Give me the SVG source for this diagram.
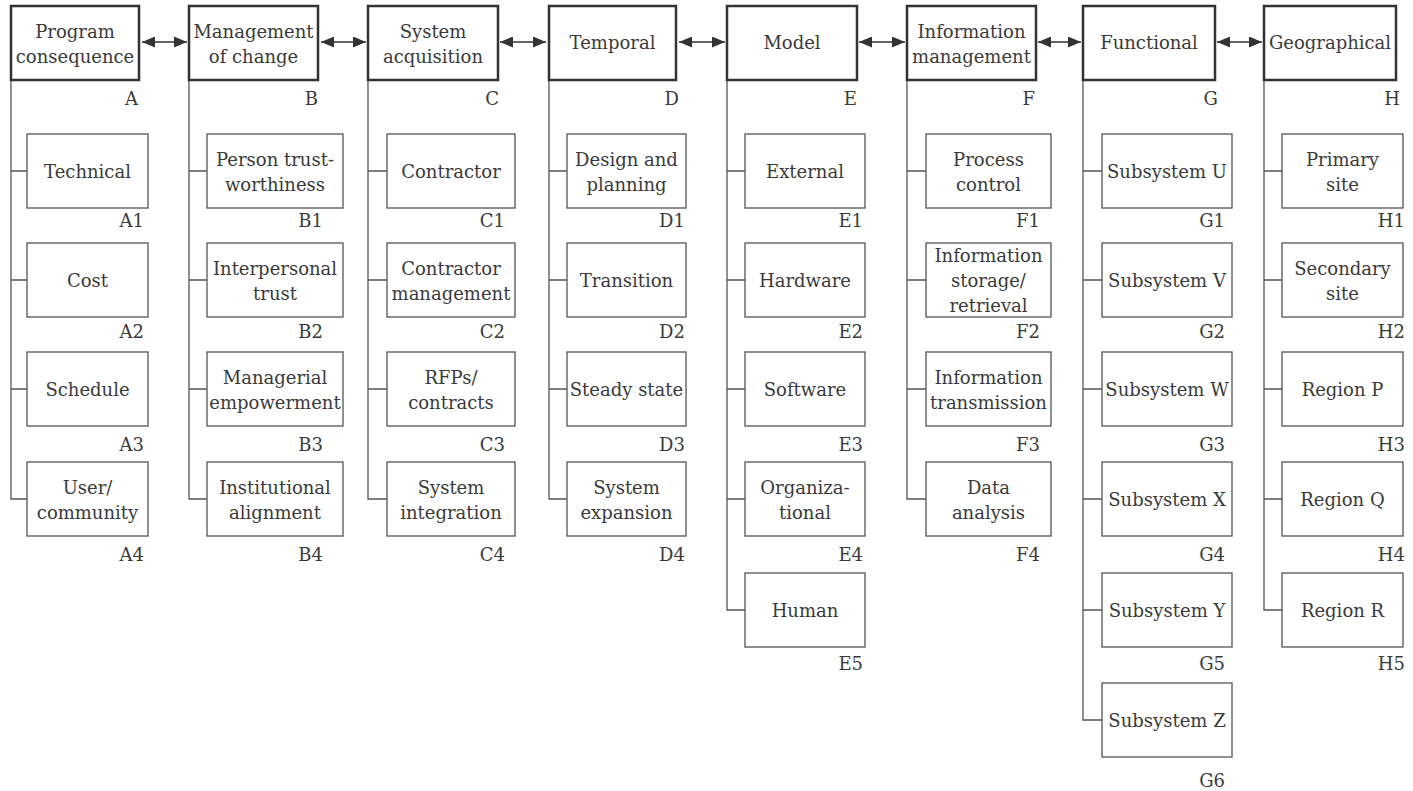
<svg xmlns="http://www.w3.org/2000/svg" width="1413" height="791" viewBox="0 0 1413 791">
<defs>
<marker id="ah" markerUnits="userSpaceOnUse" markerWidth="13" markerHeight="11" refX="13" refY="5.5" orient="auto-start-reverse"><path d="M0,0 L13,5.5 L0,11 z" fill="#333"/></marker>
<style>
.top{fill:#fff;stroke:#333;stroke-width:2.5}
.box{fill:#fff;stroke:#555;stroke-width:1.3}
.t{font-family:"DejaVu Serif","Liberation Serif",serif;font-size:18px;fill:#3a3a3a;text-anchor:middle}
.l{font-family:"DejaVu Serif","Liberation Serif",serif;font-size:18px;fill:#3a3a3a;text-anchor:end}
.w{stroke:#555;stroke-width:1.3;fill:none}
.a{stroke:#333;stroke-width:1.6;fill:none;marker-start:url(#ah);marker-end:url(#ah)}
</style>
</defs>
<rect width="1413" height="791" fill="#fff"/>
<g id="connectors">
<line class="a" x1="142" y1="42" x2="187" y2="42"/>
<line class="a" x1="321" y1="42" x2="366" y2="42"/>
<line class="a" x1="500" y1="42" x2="546" y2="42"/>
<line class="a" x1="679" y1="42" x2="725" y2="42"/>
<line class="a" x1="859" y1="42" x2="905" y2="42"/>
<line class="a" x1="1038" y1="42" x2="1081" y2="42"/>
<line class="a" x1="1217" y1="42" x2="1262" y2="42"/>
<path class="w" d="M11,80 V499 H27 M11,171 H27 M11,280 H27 M11,389 H27"/>
<path class="w" d="M189,80 V499 H207 M189,171 H207 M189,280 H207 M189,389 H207"/>
<path class="w" d="M368,80 V499 H387 M368,171 H387 M368,280 H387 M368,389 H387"/>
<path class="w" d="M549,80 V499 H567 M549,171 H567 M549,280 H567 M549,389 H567"/>
<path class="w" d="M727,80 V610 H745 M727,171 H745 M727,280 H745 M727,389 H745 M727,499 H745"/>
<path class="w" d="M907,80 V499 H926 M907,171 H926 M907,280 H926 M907,389 H926"/>
<path class="w" d="M1083,80 V720 H1102 M1083,171 H1102 M1083,280 H1102 M1083,389 H1102 M1083,499 H1102 M1083,610 H1102"/>
<path class="w" d="M1264,80 V610 H1282 M1264,171 H1282 M1264,280 H1282 M1264,389 H1282 M1264,499 H1282"/>
</g>
<g id="A">
<rect class="top" x="11" y="6" width="128" height="74"/>
<text class="t"><tspan x="75" y="38">Program</tspan><tspan x="75" y="63">consequence</tspan></text>
<text class="l" x="138" y="105">A</text>
</g>
<g id="A1"><rect class="box" x="27" y="134" width="121" height="74"/><text class="t" x="87.5" y="177.5">Technical</text><text class="l" x="144" y="227">A1</text></g>
<g id="A2"><rect class="box" x="27" y="243" width="121" height="74"/><text class="t" x="87.5" y="286.5">Cost</text><text class="l" x="144" y="338">A2</text></g>
<g id="A3"><rect class="box" x="27" y="352" width="121" height="74"/><text class="t" x="87.5" y="395.5">Schedule</text><text class="l" x="144" y="451">A3</text></g>
<g id="A4"><rect class="box" x="27" y="462" width="121" height="74"/><text class="t"><tspan x="87.5" y="494">User/</tspan><tspan x="87.5" y="519">community</tspan></text><text class="l" x="144" y="561">A4</text></g>
<g id="B">
<rect class="top" x="189" y="6" width="129" height="74"/>
<text class="t"><tspan x="253.5" y="38">Management</tspan><tspan x="253.5" y="63">of change</tspan></text>
<text class="l" x="318" y="105">B</text>
</g>
<g id="B1"><rect class="box" x="207" y="134" width="136" height="74"/><text class="t"><tspan x="275" y="166">Person trust-</tspan><tspan x="275" y="191">worthiness</tspan></text><text class="l" x="323" y="227">B1</text></g>
<g id="B2"><rect class="box" x="207" y="243" width="136" height="74"/><text class="t"><tspan x="275" y="275">Interpersonal</tspan><tspan x="275" y="300">trust</tspan></text><text class="l" x="323" y="338">B2</text></g>
<g id="B3"><rect class="box" x="207" y="352" width="136" height="74"/><text class="t"><tspan x="275" y="384">Managerial</tspan><tspan x="275" y="409">empowerment</tspan></text><text class="l" x="323" y="451">B3</text></g>
<g id="B4"><rect class="box" x="207" y="462" width="136" height="74"/><text class="t"><tspan x="275" y="494">Institutional</tspan><tspan x="275" y="519">alignment</tspan></text><text class="l" x="323" y="561">B4</text></g>
<g id="C">
<rect class="top" x="368" y="6" width="130" height="74"/>
<text class="t"><tspan x="433" y="38">System</tspan><tspan x="433" y="63">acquisition</tspan></text>
<text class="l" x="499" y="105">C</text>
</g>
<g id="C1"><rect class="box" x="387" y="134" width="128" height="74"/><text class="t" x="451" y="177.5">Contractor</text><text class="l" x="505" y="227">C1</text></g>
<g id="C2"><rect class="box" x="387" y="243" width="128" height="74"/><text class="t"><tspan x="451" y="275">Contractor</tspan><tspan x="451" y="300">management</tspan></text><text class="l" x="505" y="338">C2</text></g>
<g id="C3"><rect class="box" x="387" y="352" width="128" height="74"/><text class="t"><tspan x="451" y="384">RFPs/</tspan><tspan x="451" y="409">contracts</tspan></text><text class="l" x="505" y="451">C3</text></g>
<g id="C4"><rect class="box" x="387" y="462" width="128" height="74"/><text class="t"><tspan x="451" y="494">System</tspan><tspan x="451" y="519">integration</tspan></text><text class="l" x="505" y="561">C4</text></g>
<g id="D">
<rect class="top" x="549" y="6" width="127" height="74"/>
<text class="t" x="612.5" y="49">Temporal</text>
<text class="l" x="679" y="105">D</text>
</g>
<g id="D1"><rect class="box" x="567" y="134" width="119" height="74"/><text class="t"><tspan x="626.5" y="166">Design and</tspan><tspan x="626.5" y="191">planning</tspan></text><text class="l" x="685" y="227">D1</text></g>
<g id="D2"><rect class="box" x="567" y="243" width="119" height="74"/><text class="t" x="626.5" y="286.5">Transition</text><text class="l" x="685" y="338">D2</text></g>
<g id="D3"><rect class="box" x="567" y="352" width="119" height="74"/><text class="t" x="626.5" y="395.5">Steady state</text><text class="l" x="685" y="451">D3</text></g>
<g id="D4"><rect class="box" x="567" y="462" width="119" height="74"/><text class="t"><tspan x="626.5" y="494">System</tspan><tspan x="626.5" y="519">expansion</tspan></text><text class="l" x="685" y="561">D4</text></g>
<g id="E">
<rect class="top" x="727" y="6" width="130" height="74"/>
<text class="t" x="792" y="49">Model</text>
<text class="l" x="857" y="105">E</text>
</g>
<g id="E1"><rect class="box" x="745" y="134" width="120" height="74"/><text class="t" x="805" y="177.5">External</text><text class="l" x="863" y="227">E1</text></g>
<g id="E2"><rect class="box" x="745" y="243" width="120" height="74"/><text class="t" x="805" y="286.5">Hardware</text><text class="l" x="863" y="338">E2</text></g>
<g id="E3"><rect class="box" x="745" y="352" width="120" height="74"/><text class="t" x="805" y="395.5">Software</text><text class="l" x="863" y="451">E3</text></g>
<g id="E4"><rect class="box" x="745" y="462" width="120" height="74"/><text class="t"><tspan x="805" y="494">Organiza-</tspan><tspan x="805" y="519">tional</tspan></text><text class="l" x="863" y="561">E4</text></g>
<g id="E5"><rect class="box" x="745" y="573" width="120" height="74"/><text class="t" x="805" y="617">Human</text><text class="l" x="863" y="670">E5</text></g>
<g id="F">
<rect class="top" x="907" y="6" width="129" height="74"/>
<text class="t"><tspan x="971.5" y="38">Information</tspan><tspan x="971.5" y="63">management</tspan></text>
<text class="l" x="1035" y="105">F</text>
</g>
<g id="F1"><rect class="box" x="926" y="134" width="125" height="74"/><text class="t"><tspan x="988.5" y="166">Process</tspan><tspan x="988.5" y="191">control</tspan></text><text class="l" x="1040" y="227">F1</text></g>
<g id="F2"><rect class="box" x="926" y="243" width="125" height="74"/><text class="t"><tspan x="988.5" y="262">Information</tspan><tspan x="988.5" y="287">storage/</tspan><tspan x="988.5" y="312">retrieval</tspan></text><text class="l" x="1040" y="338">F2</text></g>
<g id="F3"><rect class="box" x="926" y="352" width="125" height="74"/><text class="t"><tspan x="988.5" y="384">Information</tspan><tspan x="988.5" y="409">transmission</tspan></text><text class="l" x="1040" y="451">F3</text></g>
<g id="F4"><rect class="box" x="926" y="462" width="125" height="74"/><text class="t"><tspan x="988.5" y="494">Data</tspan><tspan x="988.5" y="519">analysis</tspan></text><text class="l" x="1040" y="561">F4</text></g>
<g id="G">
<rect class="top" x="1083" y="6" width="132" height="74"/>
<text class="t" x="1149" y="49">Functional</text>
<text class="l" x="1218" y="105">G</text>
</g>
<g id="G1"><rect class="box" x="1102" y="134" width="130" height="74"/><text class="t" x="1167" y="177.5">Subsystem U</text><text class="l" x="1225" y="227">G1</text></g>
<g id="G2"><rect class="box" x="1102" y="243" width="130" height="74"/><text class="t" x="1167" y="286.5">Subsystem V</text><text class="l" x="1225" y="338">G2</text></g>
<g id="G3"><rect class="box" x="1102" y="352" width="130" height="74"/><text class="t" x="1167" y="395.5">Subsystem W</text><text class="l" x="1225" y="451">G3</text></g>
<g id="G4"><rect class="box" x="1102" y="462" width="130" height="74"/><text class="t" x="1167" y="505.5">Subsystem X</text><text class="l" x="1225" y="561">G4</text></g>
<g id="G5"><rect class="box" x="1102" y="573" width="130" height="74"/><text class="t" x="1167" y="617">Subsystem Y</text><text class="l" x="1225" y="670">G5</text></g>
<g id="G6"><rect class="box" x="1102" y="683" width="130" height="74"/><text class="t" x="1167" y="727">Subsystem Z</text><text class="l" x="1225" y="787">G6</text></g>
<g id="H">
<rect class="top" x="1264" y="6" width="132" height="74"/>
<text class="t" x="1330" y="49">Geographical</text>
<text class="l" x="1400" y="105">H</text>
</g>
<g id="H1"><rect class="box" x="1282" y="134" width="121" height="74"/><text class="t"><tspan x="1342.5" y="166">Primary</tspan><tspan x="1342.5" y="191">site</tspan></text><text class="l" x="1405" y="227">H1</text></g>
<g id="H2"><rect class="box" x="1282" y="243" width="121" height="74"/><text class="t"><tspan x="1342.5" y="275">Secondary</tspan><tspan x="1342.5" y="300">site</tspan></text><text class="l" x="1405" y="338">H2</text></g>
<g id="H3"><rect class="box" x="1282" y="352" width="121" height="74"/><text class="t" x="1342.5" y="395.5">Region P</text><text class="l" x="1405" y="451">H3</text></g>
<g id="H4"><rect class="box" x="1282" y="462" width="121" height="74"/><text class="t" x="1342.5" y="505.5">Region Q</text><text class="l" x="1405" y="561">H4</text></g>
<g id="H5"><rect class="box" x="1282" y="573" width="121" height="74"/><text class="t" x="1342.5" y="617">Region R</text><text class="l" x="1405" y="670">H5</text></g>
</svg>
